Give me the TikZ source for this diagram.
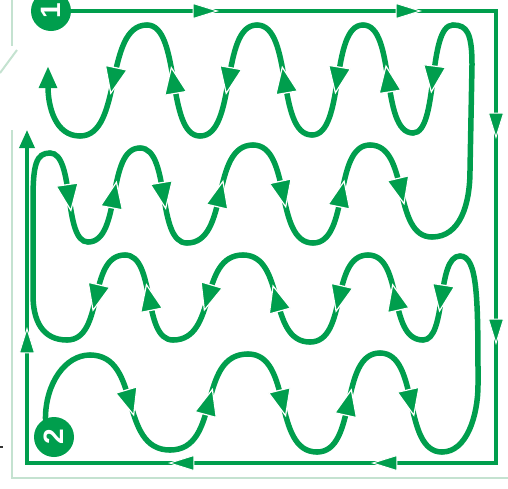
\documentclass[tikz,border=0pt]{standalone}
\usepackage{graphicx}
\usepackage{fontspec}
\setsansfont{Liberation Sans}
\usetikzlibrary{arrows.meta, decorations.markings}

\definecolor{pathgreen}{RGB}{0,158,77}
\definecolor{palegreen}{RGB}{196,226,208}

\newcommand{\wavetip}{\filldraw[fill=pathgreen, draw=white, line width=1.2pt] (13,0) -- (-13,11) -- (-13,-11) -- cycle;}
\newcommand{\frametip}{\filldraw[fill=pathgreen, draw=white, line width=1pt] (12,0) -- (-12,7.5) -- (-12,-7.5) -- cycle;}

\tikzset{
  wave/.style={pathgreen, line width=5.5pt, line cap=round},
  midarrow/.style={postaction={decorate}, decoration={markings, mark=at position 0.5 with {\wavetip}}},
  frame/.style={pathgreen, line width=3.5pt, postaction={decorate},
    decoration={markings,
      mark=at position 134pt with {\frametip},
      mark=at position 337pt with {\frametip},
      mark=at position 539pt with {\frametip},
      mark=at position 745pt with {\frametip},
      mark=at position 988pt with {\frametip},
      mark=at position 1191pt with {\frametip},
      mark=at position 1468pt with {\frametip}}},
  guide/.style={palegreen, line width=2pt},
  numdot/.style={circle, fill=pathgreen, text=white, minimum size=40pt, inner sep=0pt,
    font=\sffamily\bfseries\fontsize{28}{28}\selectfont},
}

\begin{document}
\begin{tikzpicture}[x=1pt, y=-1pt]
  \useasboundingbox (0,0) rectangle (508,488);
  % faint page guides
  \draw[guide] (12,0) -- (12,46);
  \draw[guide] (17,50) -- (0,73);
  \draw[guide] (12,130) -- (12,478) -- (508,478);
  \draw[line width=1.2pt, black!80] (0,447) -- (3,447);

  % start and goal
  \node[numdot] (n1) at (51,11) {\rotatebox{90}{1}};
  \node[numdot] (n2) at (54,437) {\rotatebox{90}{2}};

  % outer track from 1
  \draw[frame, -{Triangle[length=18pt, width=15pt]}] (n1.east) -- (496,11) -- (496,463) -- (27,463) -- (27,130);

  % row 4: from 2, left to right
  \draw[wave] (n2.115) .. controls +(0,-35) and +(-25,0) .. (90,355);
  \foreach \xa/\ya/\h/\xb/\yb in {90/355/52/170/450, 170/450/52/248/354, 248/354/45/317/452,
                                  317/452/41/380/353, 380/353/40/442/452}
    \draw[wave, midarrow] (\xa,\ya) .. controls +(\h,0) and +(-\h,0) .. (\xb,\yb);
  % turn up on the right
  \draw[wave] (442,452) .. controls +(25,0) and +(0,30) .. (478,385)
    .. controls +(0,-85) and +(18,0) .. (460,256);

  % row 3: right to left
  \foreach \xa/\ya/\h/\xb/\yb in {460/256/24/423/340, 423/340/36/368/255, 368/255/38/310/342,
                                  310/342/43/243/255, 243/255/45/173/340, 173/340/31/125/255,
                                  125/255/38/67/340}
    \draw[wave, midarrow] (\xa,\ya) .. controls +(-\h,0) and +(\h,0) .. (\xb,\yb);
  % loop on the left
  \draw[wave] (67,340) .. controls +(-25,0) and +(0,25) .. (33,295) -- (33,200)
    .. controls +(0,-35) and +(-14,0) .. (50,153);

  % row 2: left to right
  \foreach \xa/\ya/\h/\xb/\yb in {50/153/25/88/242, 88/242/34/140/148, 140/148/31/187/243,
                                  187/243/43/253/145, 253/145/39/313/243, 313/243/37/370/145,
                                  370/145/40/432/237}
    \draw[wave, midarrow] (\xa,\ya) .. controls +(\h,0) and +(-\h,0) .. (\xb,\yb);
  % turn up on the right
  \draw[wave] (432,237) .. controls +(28,0) and +(0,35) .. (470,170) -- (472,65)
    .. controls +(0,-32) and +(14,0) .. (453,25);

  % row 1: right to left, ends with a tip
  \foreach \xa/\ya/\h/\xb/\yb in {453/25/26/413/133, 413/133/33/363/25, 363/25/33/312/135,
                                  312/135/36/257/25, 257/25/37/200/136, 200/136/34/147/25,
                                  147/25/43/80/136}
    \draw[wave, midarrow] (\xa,\ya) .. controls +(-\h,0) and +(\h,0) .. (\xb,\yb);
  \draw[wave, -{Triangle[length=22pt, width=17pt]}] (80,136) .. controls +(-25,0) and +(0,40) .. (48,66);
\end{tikzpicture}
\end{document}
